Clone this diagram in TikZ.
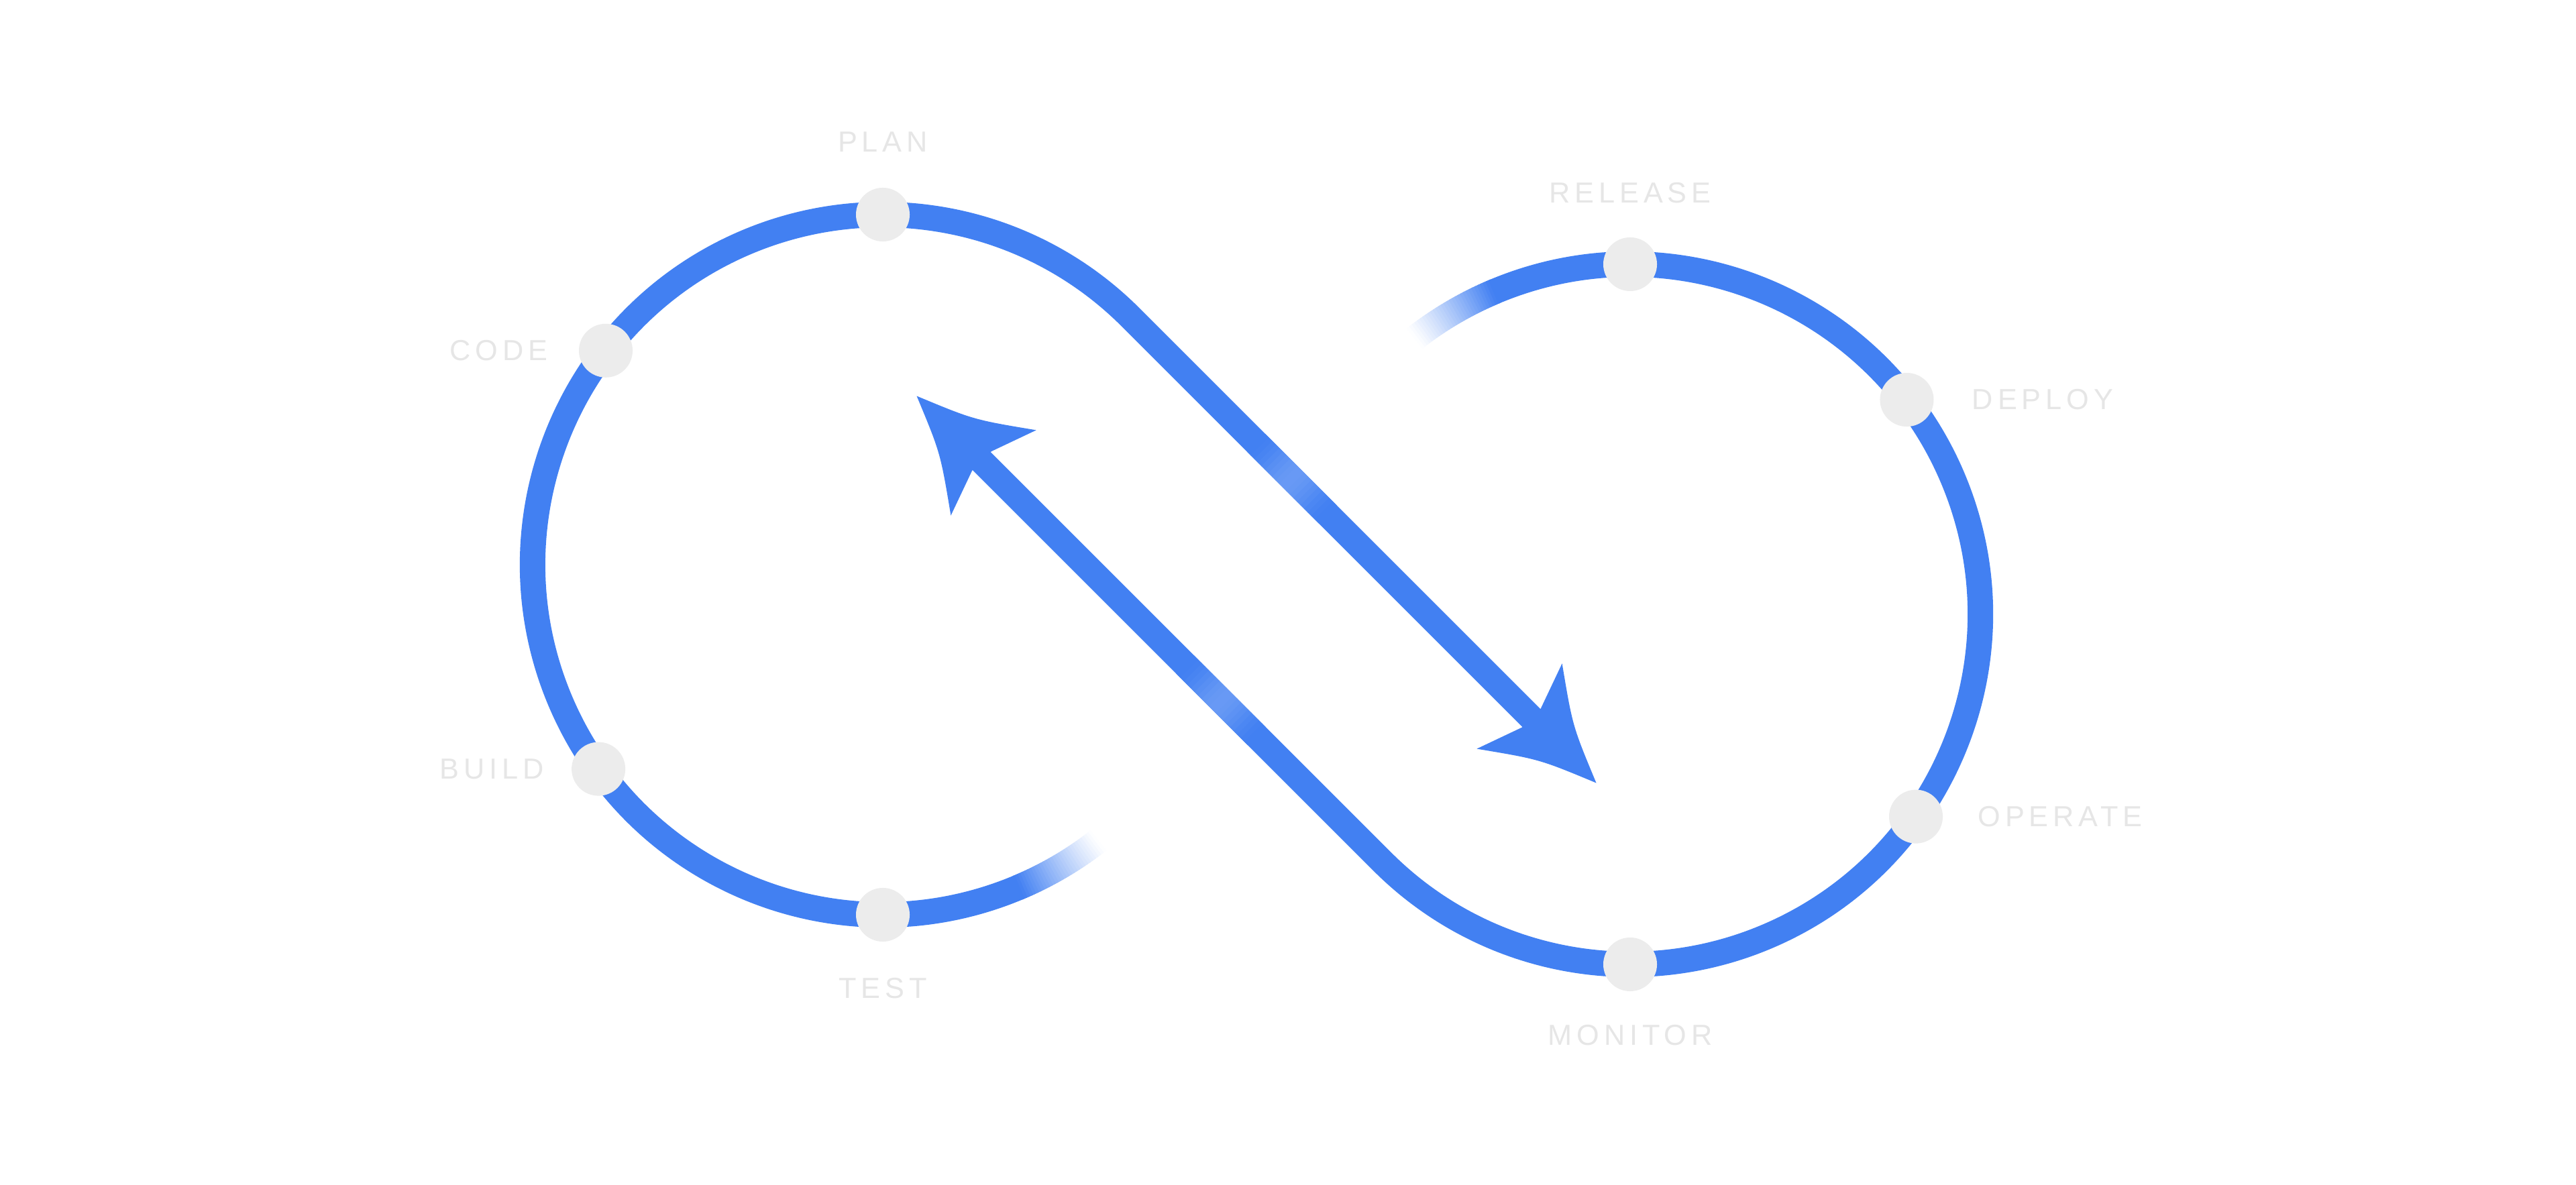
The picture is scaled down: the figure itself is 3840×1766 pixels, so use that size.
\documentclass[tikz,border=0pt]{standalone}
\usepackage{fontspec}
\newfontfamily\stagefont{Liberation Sans}[LetterSpace=16]
\usetikzlibrary{positioning}
\definecolor{devblue}{RGB}{66,128,242}
\definecolor{dotgray}{RGB}{236,236,236}
\definecolor{labelgray}{RGB}{230,230,230}

\newcommand\infhalf{%
  \foreach \i in {0,...,29}{%
    \pgfmathsetmacro\sa{-52-15*\i/30}%
    \pgfmathsetmacro\ea{-52-15*(\i+1)/30-0.4}%
    \pgfmathsetmacro\mx{100*((\i+0.5)/30)^1.15}%
    \draw[line width=0.38cm, draw=devblue!\mx!white] (1316,924) ++(\sa:522) arc[start angle=\sa, end angle=\ea, radius=522];
  }%
  \draw[loopline] (1316,924) ++(-67:522) arc[start angle=-67, end angle=-315, radius=522] -- ++(-45:852);
  \foreach \i in {0,...,19}{%
    \pgfmathsetmacro\ds{265+7.5*\i}%
    \pgfmathsetmacro\mx{100-10*(1-cos(18*(\i+0.5)))}%
    \draw[line width=0.38cm, draw=devblue!\mx!white] (1685.1,1293.1) ++(-45:\ds) -- ++(-45:8.5);
  }%
  \begin{scope}[shift={(2379.5,598.5)}, rotate=-45]
    \fill[devblue] (0,0) .. controls (-85,35) .. (-162,90) -- (-137,20) -- (-137,-20) -- (-162,-90) .. controls (-85,-35) .. (0,0) -- cycle;
  \end{scope}
}

\begin{document}
\begin{tikzpicture}[x=0.01cm,y=0.01cm,
  loopline/.style={draw=devblue, line width=0.38cm},
  stagedot/.style={circle, fill=dotgray, minimum size=0.8cm, inner sep=0pt},
  stagelabel/.style={text=labelgray, font=\stagefont\fontsize{12.3}{14}\selectfont, inner sep=0pt}]
\useasboundingbox (0,0) rectangle (3840,1766);
\fill[white] (0,0) rectangle (3840,1766);

% left loop with upper diagonal
\infhalf
% right loop with lower diagonal (point symmetric)
\begin{scope}[rotate around={180:(1873,887)}]
\infhalf
\end{scope}

% stage dots
\path (1316,924) ++(90:522) node[stagedot] (plan) {};
\path (1316,924) ++(142.3:522) node[stagedot] (code) {};
\path (1316,924) ++(215.7:522) node[stagedot] (build) {};
\path (1316,924) ++(270:522) node[stagedot] (test) {};
\path (2430,850) ++(90:522) node[stagedot] (release) {};
\path (2430,850) ++(37.8:522) node[stagedot] (deploy) {};
\path (2430,850) ++(-35.3:522) node[stagedot] (operate) {};
\path (2430,850) ++(270:522) node[stagedot] (monitor) {};

% labels
\node[stagelabel, above=0.525cm of plan] (planlbl) {PLAN};
\node[stagelabel, left=0.45cm of code] (codelbl) {CODE};
\node[stagelabel, left=0.40cm of build] (buildlbl) {BUILD};
\node[stagelabel, below=0.525cm of test] (testlbl) {TEST};
\node[stagelabel, above=0.5cm of release] (releaselbl) {RELEASE};
\node[stagelabel, right=0.56cm of deploy] (deploylbl) {DEPLOY};
\node[stagelabel, right=0.51cm of operate] (operatelbl) {OPERATE};
\node[stagelabel, below=0.49cm of monitor] (monitorlbl) {MONITOR};
\end{tikzpicture}
\end{document}
